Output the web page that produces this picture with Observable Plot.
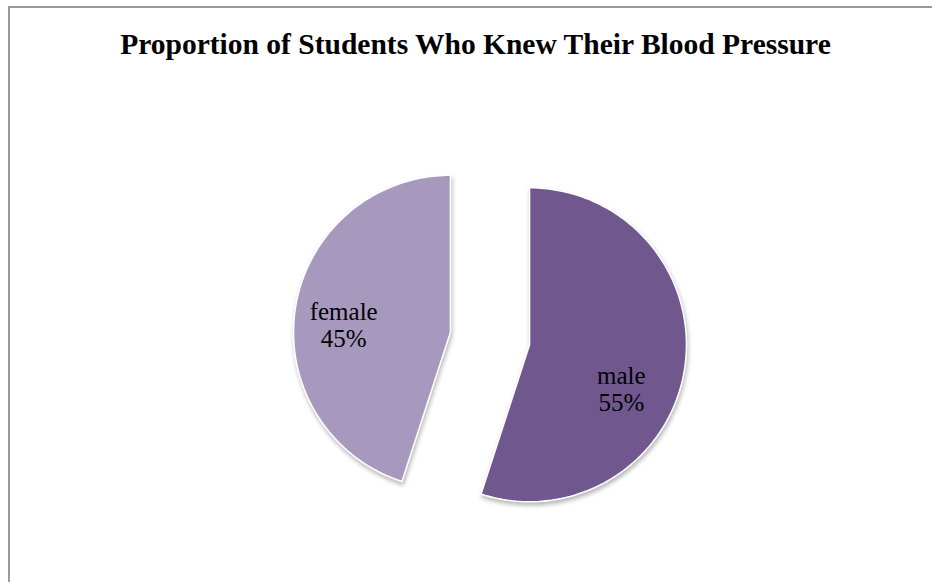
<!DOCTYPE html>
<html>
<head>
<meta charset="utf-8">
<script src="https://cdn.jsdelivr.net/npm/d3@7"></script>
<script src="https://cdn.jsdelivr.net/npm/@observablehq/plot@0.6"></script>
<style>
  html, body { margin: 0; padding: 0; background: #fff; overflow: hidden; }
  #page { position: relative; width: 932px; height: 582px; overflow: hidden; background: #fff; }
  #frame { position: absolute; left: 8px; top: 6px; width: 960px; height: 620px;
           border-left: 2px solid #9a9a9a; border-top: 2px solid #9a9a9a; pointer-events: none; }
  #title { height: 90px; box-sizing: border-box; padding-top: 27px; line-height: 34px;
           font-family: "Liberation Serif", "Times New Roman", serif; font-weight: bold;
           font-size: 29.5px; color: #000; text-align: center; padding-left: 19px; white-space: nowrap; }
  #chart svg path { filter: drop-shadow(1px 3px 2px rgba(0,0,0,0.28)); }
  #chart svg text { font-family: "Liberation Serif", "Times New Roman", serif; }
</style>
</head>
<body>
<div id="page">
  <div id="title">Proportion of Students Who Knew Their Blood Pressure</div>
  <div id="chart"></div>
  <div id="frame"></div>
</div>
<script>
// ---- data ----
const categories = ["male", "female"];
const values = [55, 45];
const percentLabels = ["55%", "45%"];
const colors = ["#70588F", "#A799BE"];

// ---- layout (pixels) ----
const W = 932, H = 492;
const cx = 489.5, cy = 248, R = 157;   // pie centre and radius in the svg
const explode = 40 / R;                // explosion distance in radius units
const labelRadius = 0.65;

const arcs = d3.pie().sort(null)(values);
const slices = [];
const labels = [];
arcs.forEach((a, i) => {
  const mid = (a.startAngle + a.endAngle) / 2;
  const ox = explode * Math.sin(mid), oy = explode * Math.cos(mid);
  const pts = [{cat: categories[i], x: ox, y: oy}];
  const n = 120;
  for (let k = 0; k <= n; k++) {
    const t = a.startAngle + (a.endAngle - a.startAngle) * k / n;
    pts.push({cat: categories[i], x: ox + Math.sin(t), y: oy + Math.cos(t)});
  }
  slices.push(...pts);
  labels.push({
    cat: categories[i],
    x: ox + labelRadius * Math.sin(mid),
    y: oy + labelRadius * Math.cos(mid),
    text: categories[i] + "\n" + percentLabels[i]
  });
});

const labelStyle = {
  x: "x", y: "y", text: "text", fontSize: 25, lineHeight: 1.064,
  fontFamily: "Liberation Serif", fill: "#000"
};

const chart = Plot.plot({
  width: W, height: H,
  margin: 0,
  x: {domain: [-cx / R, (W - cx) / R], axis: null},
  y: {domain: [-(H - cy) / R, cy / R], axis: null},
  color: {domain: categories, range: colors},
  style: {background: "transparent", overflow: "visible", fontFamily: "Liberation Serif"},
  marks: [
    Plot.line(slices, {x: "x", y: "y", z: "cat", fill: "cat", stroke: "white",
                       strokeWidth: 1.6, curve: "linear-closed"}),
    Plot.text(labels.filter(d => d.cat === "male"), {...labelStyle, dx: -9, dy: 28}),
    Plot.text(labels.filter(d => d.cat === "female"), {...labelStyle, dx: -6, dy: 9})
  ]
});
document.getElementById("chart").appendChild(chart);
</script>
</body>
</html>
